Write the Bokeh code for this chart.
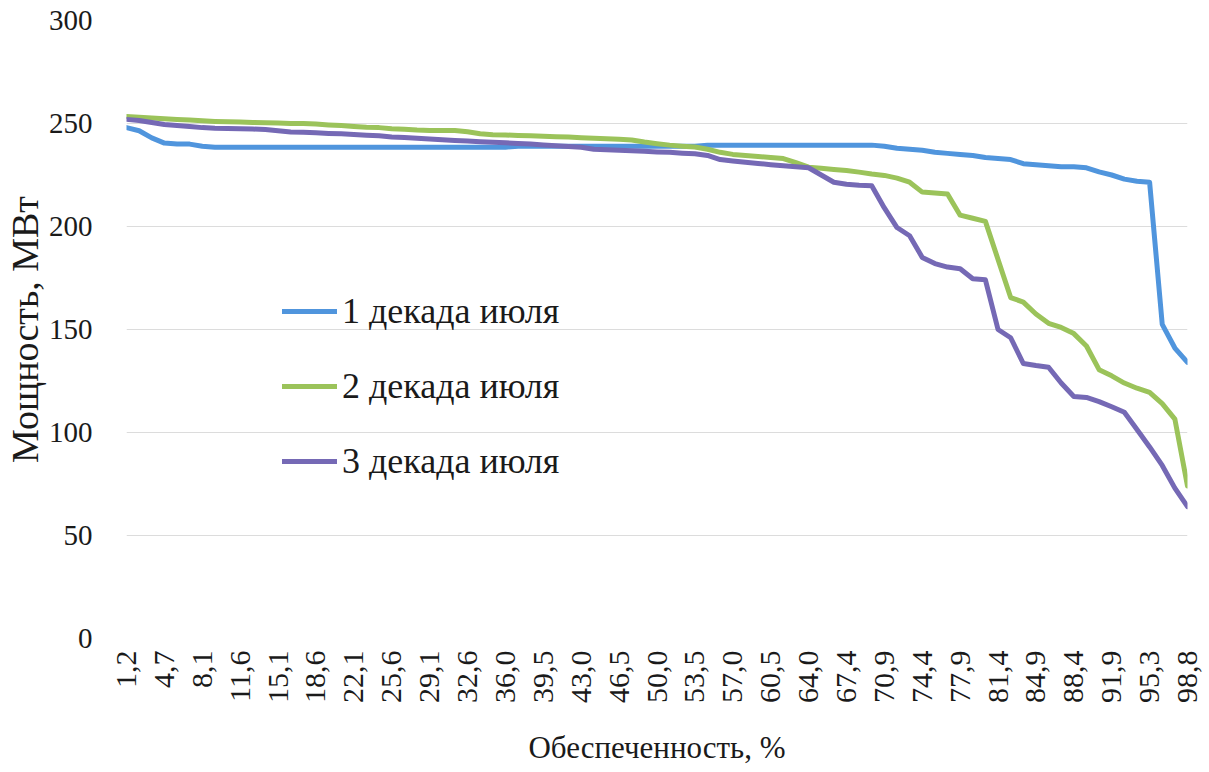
import math
from bokeh.plotting import figure
from bokeh.models import Range1d, FixedTicker
from bokeh.embed import file_html
from bokeh.resources import INLINE

# Обеспеченность, % (categories)
categories = [
    "1,2", "2,3", "3,5", "4,7", "5,8", "7,0", "8,1", "9,3", "10,5", "11,6",
    "12,8", "14,0", "15,1", "16,3", "17,4", "18,6", "19,8", "20,9", "22,1", "23,3",
    "24,4", "25,6", "26,7", "27,9", "29,1", "30,2", "31,4", "32,6", "33,7", "34,9",
    "36,0", "37,2", "38,4", "39,5", "40,7", "41,9", "43,0", "44,2", "45,3", "46,5",
    "47,7", "48,8", "50,0", "51,2", "52,3", "53,5", "54,7", "55,8", "57,0", "58,1",
    "59,3", "60,5", "61,6", "62,8", "64,0", "65,1", "66,3", "67,4", "68,6", "69,8",
    "70,9", "72,1", "73,3", "74,4", "75,6", "76,7", "77,9", "79,1", "80,2", "81,4",
    "82,6", "83,7", "84,9", "86,0", "87,2", "88,4", "89,5", "90,7", "91,9", "93,0",
    "94,2", "95,3", "96,5", "97,7", "98,8",
]

# Мощность, МВт
decade1 = [
    248, 246.5, 243, 240.5, 240, 240, 239, 238.5, 238.5, 238.5,
    238.5, 238.5, 238.5, 238.5, 238.5, 238.5, 238.5, 238.5, 238.5, 238.5,
    238.5, 238.5, 238.5, 238.5, 238.5, 238.5, 238.5, 238.5, 238.5, 238.5,
    238.5, 239, 239, 239, 239, 239, 239, 239, 239, 239,
    239, 239, 239, 239, 239, 239, 239.5, 239.5, 239.5, 239.5,
    239.5, 239.5, 239.5, 239.5, 239.5, 239.5, 239.5, 239.5, 239.5, 239.5,
    239, 238, 237.5, 237, 236, 235.5, 235, 234.5, 233.5, 233,
    232.5, 230.5, 230, 229.5, 229, 229, 228.5, 226.5, 225, 223,
    222, 221.5, 152.5, 141, 134,
]
decade2 = [
    253.4, 253, 252.7, 252.3, 252, 251.7, 251.3, 251, 250.8, 250.7,
    250.5, 250.4, 250.2, 250, 250, 249.7, 249.3, 249, 248.6, 248.2,
    248, 247.5, 247.2, 246.8, 246.6, 246.6, 246.6, 246, 245, 244.5,
    244.4, 244.2, 244, 243.8, 243.6, 243.4, 243.1, 242.8, 242.6, 242.3,
    242, 241, 240.2, 239.5, 239, 238.6, 237.5, 236, 235, 234.5,
    234, 233.5, 233, 231, 228.8, 228.3, 227.7, 227.2, 226.4, 225.5,
    224.8, 223.5, 221.5, 216.7, 216.3, 215.8, 205.5, 204, 202.5, 184,
    165.5, 163.3, 157.5, 153, 151, 148, 142, 130.5, 127.5, 124,
    121.5, 119.5, 114, 106.5, 74,
]
decade3 = [
    252, 251.5, 250.5, 249.5, 249, 248.5, 248, 247.7, 247.6, 247.5,
    247.3, 247.1, 246.5, 245.9, 245.7, 245.5, 245.2, 245, 244.7, 244.3,
    244, 243.5, 243.2, 242.8, 242.5, 242.1, 241.8, 241.5, 241.2, 240.9,
    240.6, 240.3, 240, 239.6, 239.2, 238.8, 238.5, 237.5, 237.2, 237,
    236.8, 236.5, 236.2, 236, 235.6, 235.3, 234.5, 232.5, 231.8, 231.2,
    230.6, 230, 229.5, 229, 228.5, 225, 221.5, 220.5, 220, 219.8,
    209, 199.5, 195.5, 185, 182, 180.3, 179.5, 174.6, 174.1, 150,
    146, 133.5, 132.5, 131.7, 124, 117.5, 117, 115, 112.5, 109.8,
    101.5, 93, 84, 73, 64,
]

series_names = ["1 декада июля", "2 декада июля", "3 декада июля"]
series_colors = ["#5095DD", "#9BC35A", "#7569B5"]
y_ticks = [0, 50, 100, 150, 200, 250, 300]

FONT = "Liberation Serif"
TEXT = "#1a1a1a"

xs = list(range(len(categories)))

p = figure(width=1209, height=772, output_backend="svg", toolbar_location=None,
           x_range=Range1d(0, len(categories) - 1), y_range=Range1d(0, 300),
           min_border_left=125, min_border_right=22, min_border_top=20,
           min_border_bottom=134)

for ys, color, name in zip([decade1, decade2, decade3], series_colors, series_names):
    p.line(xs, ys, line_color=color, line_width=5, legend_label=name,
           line_join="round", line_cap="round")

p.outline_line_color = None
p.xgrid.visible = False
p.ygrid.grid_line_color = "#dcdcdc"
p.ygrid.grid_line_width = 1

# y axis
p.yaxis.ticker = FixedTicker(ticks=y_ticks)
p.yaxis.axis_line_color = None
p.yaxis.major_tick_line_color = None
p.yaxis.minor_tick_line_color = None
p.yaxis.major_tick_out = 0
p.yaxis.major_tick_in = 0
p.yaxis.minor_tick_out = 0
p.yaxis.major_label_text_font = FONT
p.yaxis.major_label_text_font_size = "29px"
p.yaxis.major_label_text_color = TEXT
p.yaxis.major_label_standoff = 34
p.yaxis.axis_label = "Мощность, МВт"
p.yaxis.axis_label_text_font = FONT
p.yaxis.axis_label_text_font_size = "38px"
p.yaxis.axis_label_text_font_style = "normal"
p.yaxis.axis_label_text_color = TEXT
p.yaxis.axis_label_standoff = 0

# x axis
tick_pos = xs[::3]
p.xaxis.ticker = FixedTicker(ticks=tick_pos)
p.xaxis.major_label_overrides = {i: categories[i] for i in tick_pos}
p.xaxis.major_label_orientation = math.pi / 2
p.xaxis.axis_line_color = None
p.xaxis.major_tick_line_color = None
p.xaxis.minor_tick_line_color = None
p.xaxis.major_tick_out = 0
p.xaxis.major_tick_in = 0
p.xaxis.minor_tick_out = 0
p.xaxis.major_label_text_font = FONT
p.xaxis.major_label_text_font_size = "30px"
p.xaxis.major_label_text_color = TEXT
p.xaxis.major_label_standoff = 12
p.xaxis.axis_label = "Обеспеченность, %"
p.xaxis.axis_label_text_font = FONT
p.xaxis.axis_label_text_font_size = "31px"
p.xaxis.axis_label_text_font_style = "normal"
p.xaxis.axis_label_text_color = TEXT
p.xaxis.axis_label_standoff = 24

lg = p.legend[0]
lg.location = (156, 156)
lg.background_fill_alpha = 0
lg.border_line_color = None
lg.padding = 0
lg.margin = 0
lg.label_text_font = FONT
lg.label_text_font_size = "36px"
lg.label_text_color = TEXT
lg.glyph_width = 55
lg.glyph_height = 40
lg.label_height = 40
lg.spacing = 33
lg.label_standoff = 5

open("out.html", "w").write(file_html(p, INLINE))
